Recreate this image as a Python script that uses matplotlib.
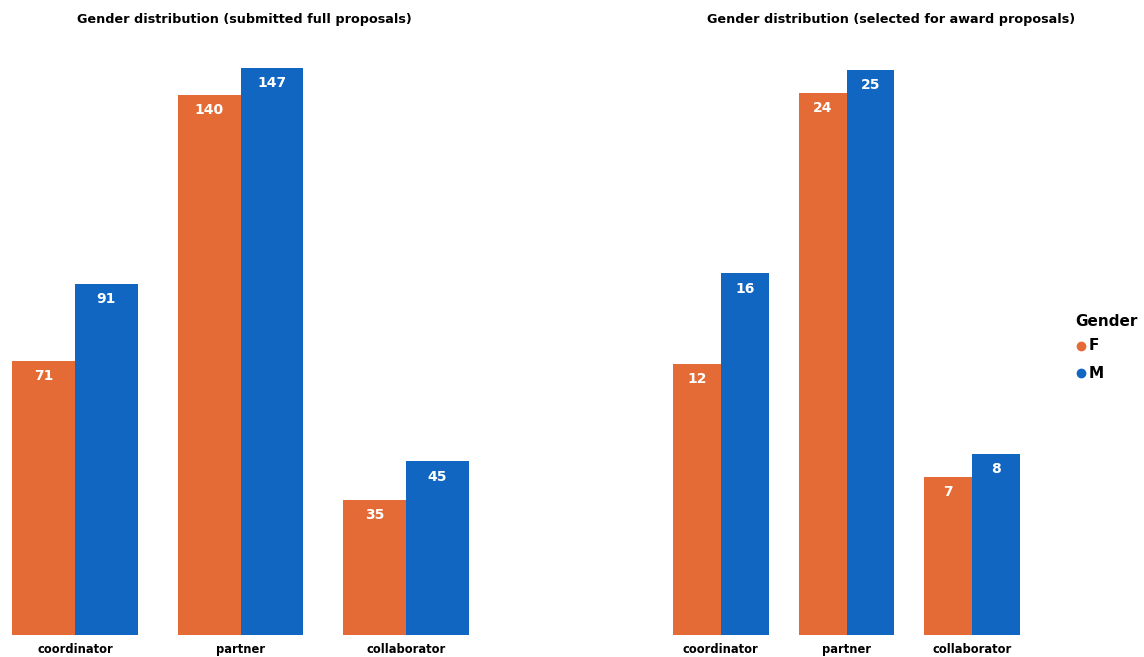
import matplotlib
matplotlib.use("Agg")
import matplotlib.pyplot as plt
import numpy as np
from matplotlib.lines import Line2D

categories = ["coordinator", "partner", "collaborator"]
submitted_F = [71, 140, 35]
submitted_M = [91, 147, 45]
selected_F = [12, 24, 7]
selected_M = [16, 25, 8]
titles = ["Gender distribution (submitted full proposals)",
          "Gender distribution (selected for award proposals)"]
legend_title = "Gender"
legend_labels = ["F", "M"]

COL_F = "#E46B35"
COL_M = "#1066C0"

W, H = 1144, 657
fig = plt.figure(figsize=(W / 100, H / 100), dpi=100)

def px_axes(x0, x1, ytop, ybot):
    return fig.add_axes([x0 / W, 1 - ybot / H, (x1 - x0) / W, (ybot - ytop) / H])

ax1 = px_axes(12, 469, 68, 635)
ax2 = px_axes(673, 1020, 70, 635)

bw = 0.38
for ax, fv, mv in [(ax1, submitted_F, submitted_M),
                   (ax2, selected_F, selected_M)]:
    x = np.arange(len(categories))
    bf = ax.bar(x - bw / 2, fv, bw, color=COL_F)
    bm = ax.bar(x + bw / 2, mv, bw, color=COL_M)
    ymax = max(max(fv), max(mv))
    ax.set_ylim(0, ymax)
    ax.set_xlim(-bw, len(categories) - 1 + bw)
    for bars, vals in [(bf, fv), (bm, mv)]:
        for b, v in zip(bars, vals):
            ax.annotate(str(v), (b.get_x() + b.get_width() / 2, v),
                        xytext=(0, -11), textcoords="offset points",
                        ha="center", va="center", color="white",
                        fontsize=10, fontweight="bold")
    ax.set_xticks(x)
    ax.set_xticklabels(categories, fontsize=8.3, fontweight="bold")
    ax.tick_params(axis="x", length=0, pad=6)
    ax.set_yticks([])
    for s in ax.spines.values():
        s.set_visible(False)

fig.text(244 / W, 1 - 19 / H, titles[0], ha="center", va="center",
         fontsize=9.2, fontweight="bold")
fig.text(891 / W, 1 - 19 / H, titles[1], ha="center", va="center",
         fontsize=9.2, fontweight="bold")

fig.text(1075 / W, 1 - 321 / H, legend_title, ha="left", va="center",
         fontsize=11, fontweight="bold")
for i, (lab, col) in enumerate(zip(legend_labels, [COL_F, COL_M])):
    yy = 1 - (346 + 27 * i) / H
    fig.add_artist(Line2D([1081 / W], [yy], marker="o", markersize=6,
                          color=col, linestyle="none", transform=fig.transFigure))
    fig.text(1089 / W, yy, lab, ha="left", va="center", fontsize=11,
             fontweight="bold")

fig.savefig("out.png", dpi=100, facecolor="white")
